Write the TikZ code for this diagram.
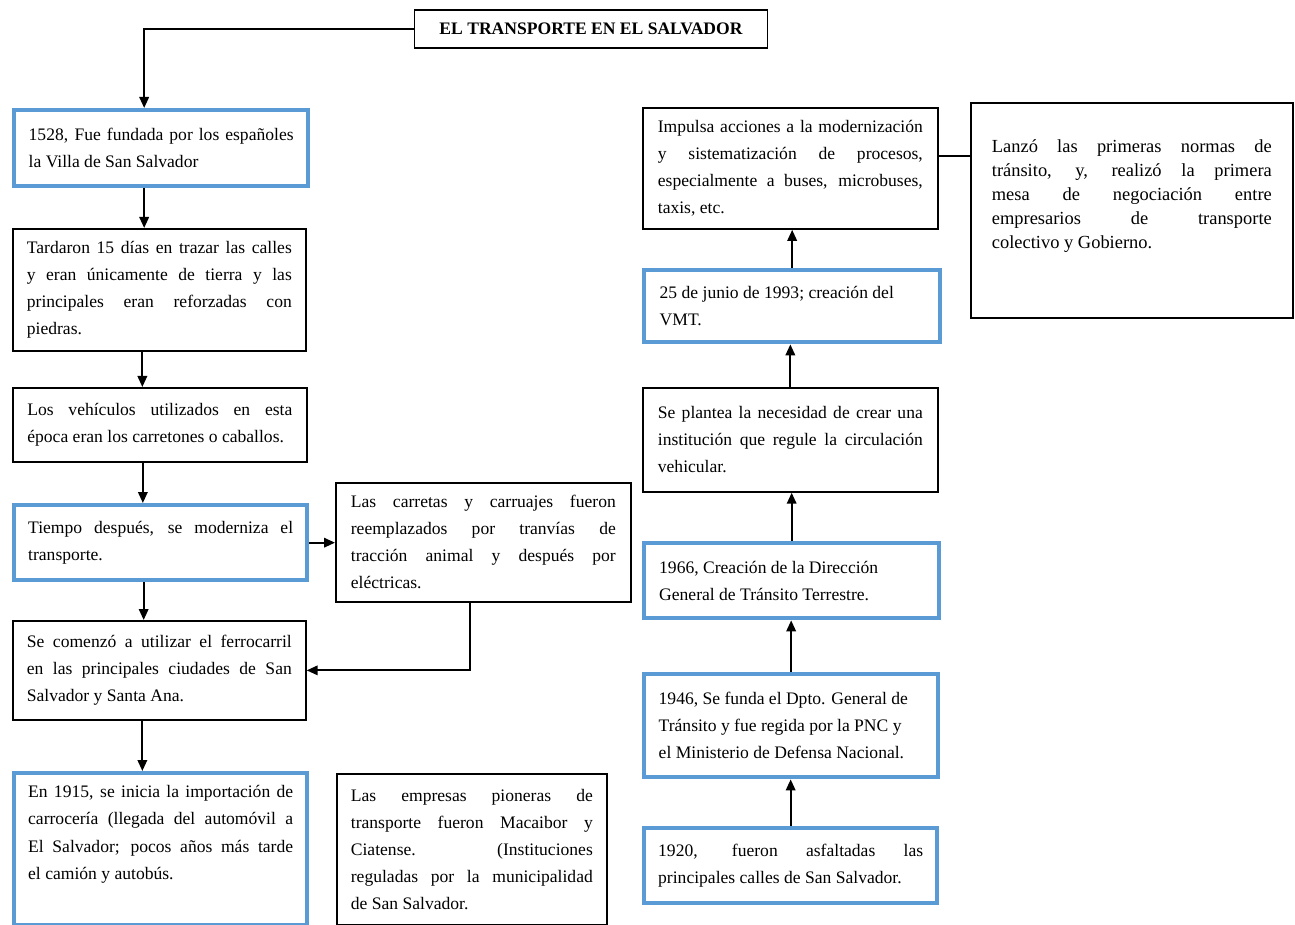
\documentclass[tikz,border=0pt]{standalone}
\usepackage{fontspec}
\setmainfont{Liberation Serif}
\usetikzlibrary{arrows.meta, positioning, calc}
\definecolor{boxblue}{RGB}{91,155,213}
\tikzset{
event/.style = {rectangle, draw=black, line width=1pt, anchor=north west, align=justify, text width=5.3cm, inner xsep=0.28cm, inner ysep=0.25cm, font={\fontsize{10}{15.4}\selectfont}},
milestone/.style = {event, draw=boxblue, line width=2.5pt},
heading/.style = {rectangle, draw=black, line width=1pt, font={\fontsize{10}{12}\selectfont\bfseries}, minimum width=7.06cm, minimum height=0.76cm},
arrow/.style = {line width=1.1pt, -{Triangle[length=2.2mm, width=1.9mm]}},
link/.style = {line width=1.1pt}
}
\begin{document}
\begin{tikzpicture}[x=0.02cm, y=-0.02cm]
\useasboundingbox (0,0) rectangle (1295,925);

\node (title) [heading] at (591,29) {EL TRANSPORTE EN EL SALVADOR};

% left column
\node (founding) [milestone, minimum width=5.88cm, minimum height=1.52cm] at (12,108) {1528, Fue fundada por los españoles\linebreak la Villa de San Salvador};
\node (streets) [event, minimum width=5.84cm, minimum height=2.36cm] at (12,228) {Tardaron 15 días en trazar las calles\linebreak y eran únicamente de tierra y las\linebreak principales eran reforzadas con\linebreak piedras.};
\node (vehicles) [event, minimum width=5.88cm, minimum height=1.48cm] at (12,387) {Los vehículos utilizados en esta\linebreak época eran los carretones o caballos.};
\node (modern) [milestone, minimum width=5.84cm, minimum height=1.5cm] at (12,503) {Tiempo después, se moderniza el\linebreak transporte.};
\node (railway) [event, minimum width=5.84cm, minimum height=1.98cm] at (12,620) {Se comenzó a utilizar el ferrocarril\linebreak en las principales ciudades de San\linebreak Salvador y Santa Ana.};
\node (import) [milestone, minimum width=5.82cm, text depth=2.3cm] at (12,771) {En 1915, se inicia la importación de\linebreak carrocería (llegada del automóvil a\linebreak El Salvador; pocos años más tarde\linebreak el camión y autobús.};

\node (tram) [event, minimum width=5.9cm, minimum height=2.34cm] at (335,482) {Las carretas y carruajes fueron\linebreak reemplazados por tranvías de\linebreak tracción animal y después por\linebreak eléctricas.};
\node (companies) [event, text width=4.84cm, minimum width=5.4cm, minimum height=3.02cm] at (336,773) {Las empresas pioneras de\linebreak transporte fueron Macaibor y\linebreak Ciatense. (Instituciones\linebreak reguladas por la municipalidad\linebreak de San Salvador.};

% right column
\node (asphalt) [milestone, minimum width=5.84cm, minimum height=1.5cm] at (642,826) {1920, fueron asfaltadas las\linebreak principales calles de San Salvador.};
\node (dept) [milestone, minimum width=5.88cm, minimum height=2.06cm] at (642,672) {1946, Se funda el Dpto. General de\\ Tránsito y fue regida por la PNC y\\ el Ministerio de Defensa Nacional.};
\node (direction) [milestone, minimum width=5.9cm, minimum height=1.5cm] at (642,541) {1966, Creación de la Dirección\\ General de Tránsito Terrestre.};
\node (need) [event, minimum width=5.9cm, minimum height=2.08cm] at (642,387) {Se plantea la necesidad de crear una\linebreak institución que regule la circulación\linebreak vehicular.};
\node (vmt) [milestone, minimum width=5.92cm, minimum height=1.44cm] at (642,268) {25 de junio de 1993; creación del\\ VMT.};
\node (actions) [event, minimum width=5.9cm, minimum height=2.42cm] at (642,107) {Impulsa acciones a la modernización\linebreak y sistematización de procesos,\linebreak especialmente a buses, microbuses,\linebreak taxis, etc.};
\node (norms) [event, text width=5.6cm, minimum width=6.44cm, inner xsep=0.42cm, text height=0.75cm, text depth=3.05cm, font={\fontsize{10.5}{13.6}\selectfont}] at (970,102) {Lanzó las primeras normas de\linebreak tránsito, y, realizó la primera\linebreak mesa de negociación entre\linebreak empresarios de transporte\linebreak colectivo y Gobierno.};

\draw [arrow] (title.west) -| ([xshift=-0.34cm]founding.north);
\draw [arrow] ([xshift=-0.34cm]founding.south) -- ([xshift=-0.34cm]founding.south |- streets.north);
\draw [arrow] ([xshift=-0.34cm]streets.south) -- ([xshift=-0.34cm]streets.south |- vehicles.north);
\draw [arrow] ([xshift=-0.34cm]vehicles.south) -- ([xshift=-0.34cm]vehicles.south |- modern.north);
\draw [arrow] ([xshift=-0.34cm]modern.south) -- ([xshift=-0.34cm]modern.south |- railway.north);
\draw [arrow] ([xshift=-0.34cm]railway.south) -- ([xshift=-0.34cm]railway.south |- import.north);
\draw [arrow] (modern.east) -- (modern.east -| tram.west);
\draw [arrow] ([xshift=-0.27cm]tram.south) |- (railway.east);

\draw [arrow] (asphalt.north) -- (asphalt.north |- dept.south);
\draw [arrow] (dept.north) -- (dept.north |- direction.south);
\draw [arrow] (direction.north) -- (direction.north |- need.south);
\draw [arrow] (need.north) -- (need.north |- vmt.south);
\draw [arrow] (vmt.north) -- (vmt.north |- actions.south);
\draw [link] ([yshift=0.25cm]actions.east) -- ([yshift=0.25cm]actions.east -| norms.west);

\end{tikzpicture}
\end{document}
